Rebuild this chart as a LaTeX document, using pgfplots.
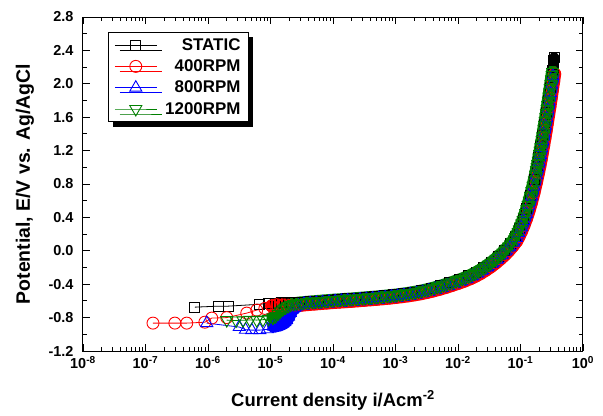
\documentclass[border=0pt]{standalone}
\usepackage{fontspec}
\setmainfont{Liberation Sans}
\usepackage{pgfplots}
\usepackage{pgfplotstable}
\pgfplotsset{compat=1.18}
\usetikzlibrary{shadows}
\definecolor{og}{RGB}{0,128,0}

% x = log10(current density / A cm^-2), y = potential / V
% ---------- STATIC ----------
\pgfplotstableread[row sep=\\]{
x y\\
-6.21 -0.675\\ -5.84 -0.663\\ -5.68 -0.663\\ -5.17 -0.640\\ -5.04 -0.630\\ -4.92 -0.625\\
}\staticlow
\pgfplotstableread[row sep=\\]{
x y\\
-4.92 -0.625\\
-4.82 -0.622\\ -4.72 -0.620\\ -4.62 -0.618\\ -4.53 -0.620\\ -4.38 -0.610\\ -4.23 -0.601\\
-4.08 -0.592\\ -3.93 -0.584\\ -3.78 -0.576\\ -3.63 -0.568\\ -3.48 -0.559\\ -3.33 -0.550\\
-3.18 -0.540\\ -3.03 -0.528\\ -2.88 -0.514\\ -2.73 -0.497\\ -2.58 -0.476\\ -2.43 -0.450\\
-2.28 -0.419\\ -2.13 -0.384\\ -1.98 -0.346\\ -1.83 -0.301\\ -1.71 -0.256\\ -1.59 -0.202\\
-1.47 -0.139\\ -1.35 -0.064\\ -1.25 0.008\\ -1.16 0.084\\ -1.08 0.169\\ -1.02 0.262\\
-0.96 0.373\\ -0.90 0.505\\ -0.84 0.664\\ -0.78 0.850\\ -0.735 1.008\\ -0.705 1.123\\
-0.675 1.247\\ -0.645 1.377\\ -0.615 1.514\\ -0.585 1.656\\ -0.555 1.803\\ -0.525 1.955\\
-0.495 2.111\\ -0.485 2.160\\ -0.478 2.200\\ -0.472 2.240\\ -0.467 2.280\\ -0.462 2.320\\
}\staticdense

% ---------- 400 RPM ----------
\pgfplotstableread[row sep=\\]{
x y\\
-6.88 -0.866\\ -6.53 -0.866\\ -6.34 -0.866\\ -6.05 -0.855\\ -5.94 -0.806\\ -5.70 -0.800\\
-5.38 -0.746\\ -5.22 -0.710\\ -5.09 -0.690\\ -4.98 -0.660\\
}\fourlow
\pgfplotstableread[row sep=\\]{
x y\\
-4.98 -0.660\\ -4.90 -0.645\\ -4.80 -0.650\\ -4.70 -0.655\\ -4.60 -0.655\\
-4.495 -0.650\\ -4.395 -0.643\\ -4.295 -0.637\\ -4.195 -0.631\\ -4.095 -0.625\\ -3.995 -0.619\\
-3.895 -0.614\\ -3.795 -0.609\\ -3.695 -0.604\\ -3.595 -0.598\\ -3.495 -0.592\\ -3.395 -0.586\\
-3.295 -0.580\\ -3.195 -0.573\\ -3.095 -0.566\\ -2.995 -0.558\\ -2.895 -0.549\\ -2.795 -0.539\\
-2.695 -0.527\\ -2.595 -0.514\\ -2.495 -0.498\\ -2.395 -0.480\\ -2.295 -0.460\\ -2.195 -0.438\\
-2.095 -0.414\\ -1.995 -0.389\\ -1.895 -0.362\\ -1.795 -0.331\\ -1.715 -0.302\\ -1.635 -0.269\\
-1.555 -0.232\\ -1.475 -0.191\\ -1.395 -0.145\\ -1.315 -0.094\\ -1.245 -0.045\\ -1.185 0.002\\
-1.125 0.054\\ -1.065 0.112\\ -1.025 0.168\\ -0.985 0.232\\ -0.945 0.304\\ -0.905 0.384\\
-0.865 0.475\\ -0.825 0.578\\ -0.785 0.693\\ -0.745 0.820\\ -0.710 0.941\\ -0.690 1.015\\
-0.670 1.093\\ -0.650 1.175\\ -0.630 1.260\\ -0.610 1.347\\ -0.590 1.438\\ -0.570 1.531\\
-0.550 1.626\\ -0.530 1.724\\ -0.510 1.823\\ -0.490 1.925\\ -0.470 2.028\\ -0.453 2.118\\
}\fourdense

% ---------- 800 RPM ----------
\pgfplotstableread[row sep=\\]{
x y\\
-6.02 -0.866\\ -5.50 -0.913\\ -5.40 -0.945\\ -5.30 -0.950\\ -5.17 -0.950\\ -5.05 -0.940\\
-4.95 -0.905\\
}\eightlow
\pgfplotstableread[row sep=\\]{
x y\\
-4.95 -0.905\\ -4.90 -0.895\\ -4.86 -0.890\\ -4.83 -0.880\\ -4.80 -0.870\\ -4.77 -0.855\\
-4.74 -0.830\\ -4.71 -0.790\\ -4.68 -0.745\\ -4.65 -0.705\\ -4.61 -0.680\\ -4.55 -0.655\\
-4.465 -0.633\\ -4.365 -0.626\\ -4.265 -0.620\\ -4.165 -0.614\\ -4.065 -0.608\\ -3.965 -0.602\\
-3.865 -0.597\\ -3.765 -0.592\\ -3.665 -0.587\\ -3.565 -0.581\\ -3.465 -0.575\\ -3.365 -0.569\\
-3.265 -0.563\\ -3.165 -0.556\\ -3.065 -0.548\\ -2.965 -0.540\\ -2.865 -0.530\\ -2.765 -0.519\\
-2.665 -0.507\\ -2.565 -0.492\\ -2.465 -0.475\\ -2.365 -0.456\\ -2.265 -0.435\\ -2.165 -0.412\\
-2.065 -0.388\\ -1.965 -0.362\\ -1.865 -0.333\\ -1.775 -0.303\\ -1.695 -0.272\\ -1.615 -0.237\\
-1.535 -0.198\\ -1.455 -0.155\\ -1.375 -0.106\\ -1.295 -0.053\\ -1.235 -0.008\\ -1.175 0.041\\
-1.115 0.096\\ -1.065 0.153\\ -1.025 0.213\\ -0.985 0.281\\ -0.945 0.357\\ -0.905 0.442\\
-0.865 0.539\\ -0.825 0.648\\ -0.785 0.769\\ -0.745 0.902\\ -0.720 0.992\\ -0.700 1.068\\
-0.680 1.148\\ -0.660 1.231\\ -0.640 1.317\\ -0.620 1.406\\ -0.600 1.498\\ -0.580 1.592\\
-0.560 1.689\\ -0.540 1.787\\ -0.520 1.888\\ -0.500 1.990\\ -0.480 2.095\\
}\eightdense

% ---------- 1200 RPM ----------
\pgfplotstableread[row sep=\\]{
x y\\
-5.70 -0.830\\ -5.55 -0.835\\ -5.44 -0.832\\ -5.33 -0.828\\ -5.22 -0.830\\ -5.12 -0.825\\
-5.03 -0.815\\ -4.96 -0.800\\
}\twelvelow
\pgfplotstableread[row sep=\\]{
x y\\
-4.96 -0.800\\ -4.92 -0.785\\ -4.88 -0.755\\ -4.84 -0.725\\ -4.80 -0.700\\
-4.76 -0.680\\ -4.72 -0.662\\ -4.68 -0.648\\ -4.63 -0.636\\ -4.58 -0.630\\
-4.53 -0.625\\ -4.48 -0.622\\ -4.43 -0.618\\ -4.38 -0.615\\ -4.33 -0.612\\ -4.28 -0.609\\
-4.23 -0.606\\ -4.18 -0.603\\ -4.13 -0.600\\ -4.08 -0.597\\ -4.03 -0.594\\ -3.98 -0.591\\
-3.93 -0.589\\ -3.88 -0.586\\ -3.83 -0.584\\ -3.78 -0.581\\ -3.73 -0.579\\ -3.68 -0.576\\
-3.63 -0.573\\ -3.58 -0.570\\ -3.53 -0.567\\ -3.48 -0.564\\ -3.43 -0.561\\ -3.38 -0.558\\
-3.33 -0.555\\ -3.28 -0.552\\ -3.23 -0.548\\ -3.18 -0.545\\ -3.13 -0.541\\ -3.08 -0.537\\
-3.03 -0.533\\ -2.98 -0.529\\ -2.93 -0.524\\ -2.88 -0.519\\ -2.83 -0.514\\ -2.78 -0.508\\
-2.73 -0.502\\ -2.68 -0.496\\ -2.63 -0.489\\ -2.58 -0.481\\ -2.53 -0.473\\ -2.48 -0.464\\
-2.43 -0.455\\ -2.38 -0.445\\ -2.33 -0.435\\ -2.28 -0.424\\ -2.23 -0.413\\ -2.18 -0.401\\
-2.13 -0.389\\ -2.08 -0.377\\ -2.03 -0.364\\ -1.98 -0.351\\ -1.93 -0.337\\ -1.88 -0.322\\
-1.83 -0.306\\ -1.79 -0.292\\ -1.75 -0.277\\ -1.71 -0.261\\ -1.67 -0.244\\ -1.63 -0.226\\
-1.59 -0.207\\ -1.55 -0.187\\ -1.51 -0.166\\ -1.47 -0.144\\ -1.43 -0.120\\ -1.39 -0.095\\
-1.35 -0.069\\ -1.31 -0.042\\ -1.28 -0.020\\ -1.25 0.003\\ -1.22 0.027\\ -1.19 0.052\\
-1.16 0.079\\ -1.13 0.107\\ -1.10 0.137\\ -1.08 0.164\\ -1.06 0.193\\ -1.04 0.224\\
-1.02 0.257\\ -1.00 0.292\\ -0.98 0.329\\ -0.96 0.368\\ -0.94 0.409\\ -0.92 0.453\\
-0.90 0.500\\ -0.88 0.550\\ -0.86 0.603\\ -0.84 0.659\\ -0.82 0.718\\ -0.80 0.780\\
-0.78 0.845\\ -0.76 0.913\\ -0.745 0.966\\ -0.735 1.003\\ -0.725 1.040\\ -0.715 1.079\\
-0.705 1.118\\ -0.695 1.159\\ -0.685 1.200\\ -0.675 1.242\\ -0.665 1.285\\ -0.655 1.328\\
-0.645 1.372\\ -0.635 1.417\\ -0.625 1.463\\ -0.615 1.509\\ -0.605 1.556\\ -0.595 1.603\\
-0.585 1.651\\ -0.575 1.700\\ -0.565 1.749\\ -0.555 1.798\\ -0.545 1.848\\ -0.535 1.899\\
-0.525 1.950\\ -0.515 2.001\\ -0.505 2.053\\ -0.495 2.106\\ -0.488 2.143\\
}\twelvedense

\begin{document}
\begin{tikzpicture}
\begin{axis}[
  scale only axis, width=500bp, height=334bp,
  xmode=log, xmin=1e-8, xmax=1, ymin=-1.2, ymax=2.8,
  xtick={1e-8,1e-7,1e-6,1e-5,1e-4,1e-3,1e-2,1e-1,1},
  xticklabels={10\textsuperscript{-8},10\textsuperscript{-7},10\textsuperscript{-6},10\textsuperscript{-5},10\textsuperscript{-4},10\textsuperscript{-3},10\textsuperscript{-2},10\textsuperscript{-1},10\textsuperscript{0}},
  ytick={-1.2,-0.8,-0.4,0,0.4,0.8,1.2,1.6,2.0,2.4,2.8},
  minor y tick num=1,
  tick align=inside,
  major tick length=7bp, minor tick length=4bp,
  every tick/.style={black, line width=0.9bp},
  axis line style={line width=1bp},
  /pgf/number format/assume math mode=true,
  tick label style={font=\bfseries\fontsize{14.5}{16}\selectfont},
  xticklabel style={yshift=-2bp},
  yticklabel style={xshift=-6bp, /pgf/number format/.cd, fixed, fixed zerofill, precision=1},
  xlabel={Current density i/Acm\textsuperscript{-2}},
  ylabel={Potential, E/V vs. Ag/AgCl},
  xlabel style={at={(axis description cs:0.5,-0.148)}, anchor=center, font=\bfseries\fontsize{18.5}{20}\selectfont},
  ylabel style={at={(axis description cs:-0.116,0.5)}, anchor=center, font=\bfseries\fontsize{19.5}{22}\selectfont},
  legend cell align=right,
  legend style={at={(axis description cs:0.05,0.955)}, anchor=north west,
    draw=black, line width=0.8bp, fill=white,
    font=\bfseries\fontsize{17}{19}\selectfont,
    inner xsep=6bp, inner ysep=4bp, row sep=4bp, column sep=6bp,
    drop shadow={shadow xshift=5bp, shadow yshift=-5bp, fill=black, opacity=1}},
  legend image code/.code={
    \draw[mark repeat=2,mark phase=2,#1] plot coordinates {(0bp,0bp) (21bp,0bp) (42bp,0bp)};
  },
  dense/.style={line width=13bp, line join=round, line cap=round},
]
% STATIC
\addplot[black, line width=0.8bp, mark=square, mark size=5bp, mark options={fill=white, solid, line width=0.9bp}]
  table[x expr=10^\thisrow{x}, y=y] {\staticlow};
\addlegendentry{STATIC}
\addplot[black, dense, line width=10bp, mark=square, mark size=5bp, mark options={solid, line width=0.9bp}, forget plot]
  table[x expr=10^\thisrow{x}, y=y] {\staticdense};
% 400 RPM
\addplot[red, line width=0.8bp, mark=o, mark size=6bp, mark options={fill=white, solid, line width=0.9bp}]
  table[x expr=10^\thisrow{x}, y=y] {\fourlow};
\addlegendentry{400RPM}
\addplot[red, dense, mark=o, mark size=6bp, mark options={solid, line width=0.9bp}, forget plot]
  table[x expr=10^\thisrow{x}, y=y] {\fourdense};
% 800 RPM
\addplot[blue, line width=0.8bp, mark=triangle, mark size=7bp, mark options={fill=white, solid, line width=0.9bp}]
  table[x expr=10^\thisrow{x}, y=y] {\eightlow};
\addlegendentry{800RPM}
\addplot[blue, dense, mark=triangle, mark size=7bp, mark options={solid, line width=0.9bp}, forget plot]
  table[x expr=10^\thisrow{x}, y=y] {\eightdense};
% 1200 RPM
\addplot[og, line width=0.8bp, mark=triangle, mark size=7bp, mark options={fill=white, solid, rotate=180, line width=0.9bp}]
  table[x expr=10^\thisrow{x}, y=y] {\twelvelow};
\addlegendentry{1200RPM}
\addplot[og, dense, mark=triangle, mark size=7bp, mark options={solid, rotate=180, line width=0.9bp}, forget plot]
  table[x expr=10^\thisrow{x}, y=y] {\twelvedense};
\coordinate (bl) at (rel axis cs:0,0);
\coordinate (tr) at (rel axis cs:1,1);
\end{axis}
\pgfresetboundingbox
\path[use as bounding box] ([shift={(-83bp,-65bp)}]bl) rectangle ([shift={(20bp,17bp)}]tr);
\end{tikzpicture}
\end{document}
